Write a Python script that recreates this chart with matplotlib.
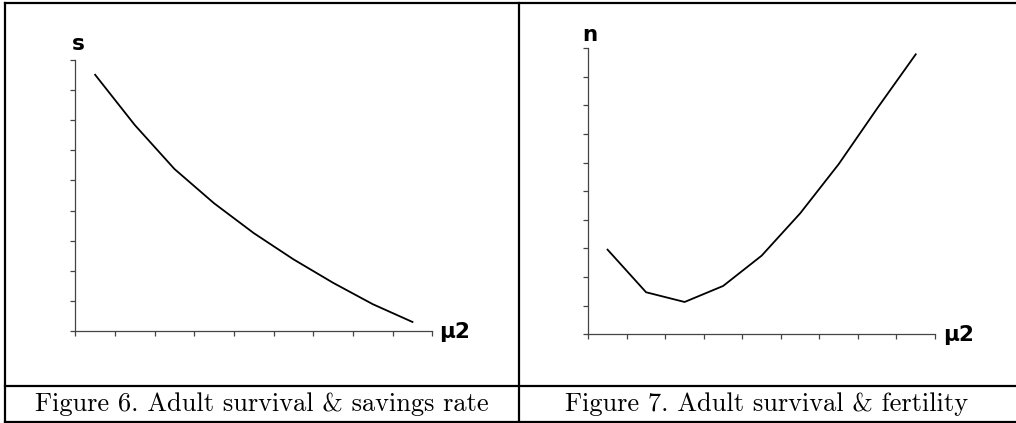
import matplotlib
matplotlib.use("Agg")
import matplotlib.pyplot as plt
from matplotlib.lines import Line2D
import numpy as np

# Data (units = y tick intervals)
savings_rate = [8.51, 6.84, 5.38, 4.24, 3.25, 2.38, 1.60, 0.89, 0.30]
fertility = [2.96, 1.47, 1.13, 1.69, 2.75, 4.23, 5.95, 7.90, 9.79]
caption_left = "Figure 6. Adult survival & savings rate"
caption_right = "Figure 7. Adult survival & fertility"
ylabel_left = "s"
ylabel_right = "n"
xlabel = "μ2"

W, H = 1016, 423
fig = plt.figure(figsize=(W / 100, H / 100), dpi=100)
fig.patch.set_facecolor("white")


def fx(px):
    return px / W


def fy(py):
    return 1 - py / H


def make_axes(left, top, right, bottom, values, ymax):
    ax = fig.add_axes([fx(left), fy(bottom), fx(right - left), (bottom - top) / H])
    x = np.arange(len(values)) + 0.5
    ax.plot(x, values, color="black", lw=1.3)
    ax.set_xlim(0, len(values))
    ax.set_ylim(0, ymax)
    ax.set_xticks(np.arange(len(values) + 1))
    ax.set_yticks(np.arange(ymax + 1))
    ax.set_xticklabels([])
    ax.set_yticklabels([])
    for s in ("top", "right"):
        ax.spines[s].set_visible(False)
    for s in ("left", "bottom"):
        ax.spines[s].set_color("#444444")
        ax.spines[s].set_linewidth(0.9)
    ax.tick_params(axis="both", direction="out", length=3.5, width=0.9, color="#444444")
    ax.patch.set_alpha(0)
    return ax


make_axes(75.3, 60, 432.3, 331, savings_rate, 9)
make_axes(588.3, 48.3, 935, 334.3, fertility, 10)

# axis labels
lab = dict(fontsize=15.5, fontweight="bold", family="DejaVu Sans", ha="center", va="center")
fig.text(fx(78), fy(44), ylabel_left, **lab)
fig.text(fx(590), fy(35), ylabel_right, **lab)
fig.text(fx(455), fy(331.5), xlabel, **lab)
fig.text(fx(959), fy(335), xlabel, **lab)

# table frame
def hline(y, x0, x1):
    fig.add_artist(Line2D([fx(x0), fx(x1)], [fy(y), fy(y)], color="black", lw=1.6,
                          transform=fig.transFigure))


def vline(x, y0, y1):
    fig.add_artist(Line2D([fx(x), fx(x)], [fy(y0), fy(y1)], color="black", lw=1.6,
                          transform=fig.transFigure))


hline(3.5, 5, W)
hline(386, 5, W)
hline(421.5, 5, W)
vline(5, 3.5, 421.5)
vline(519, 3.5, 421.5)

# captions
cap = dict(fontsize=19, family="cmr10", ha="center", va="center")
fig.text(fx(262), fy(404), caption_left, **cap)
fig.text(fx(767), fy(404), caption_right, **cap)

fig.savefig("out.png", dpi=100, facecolor="white")
